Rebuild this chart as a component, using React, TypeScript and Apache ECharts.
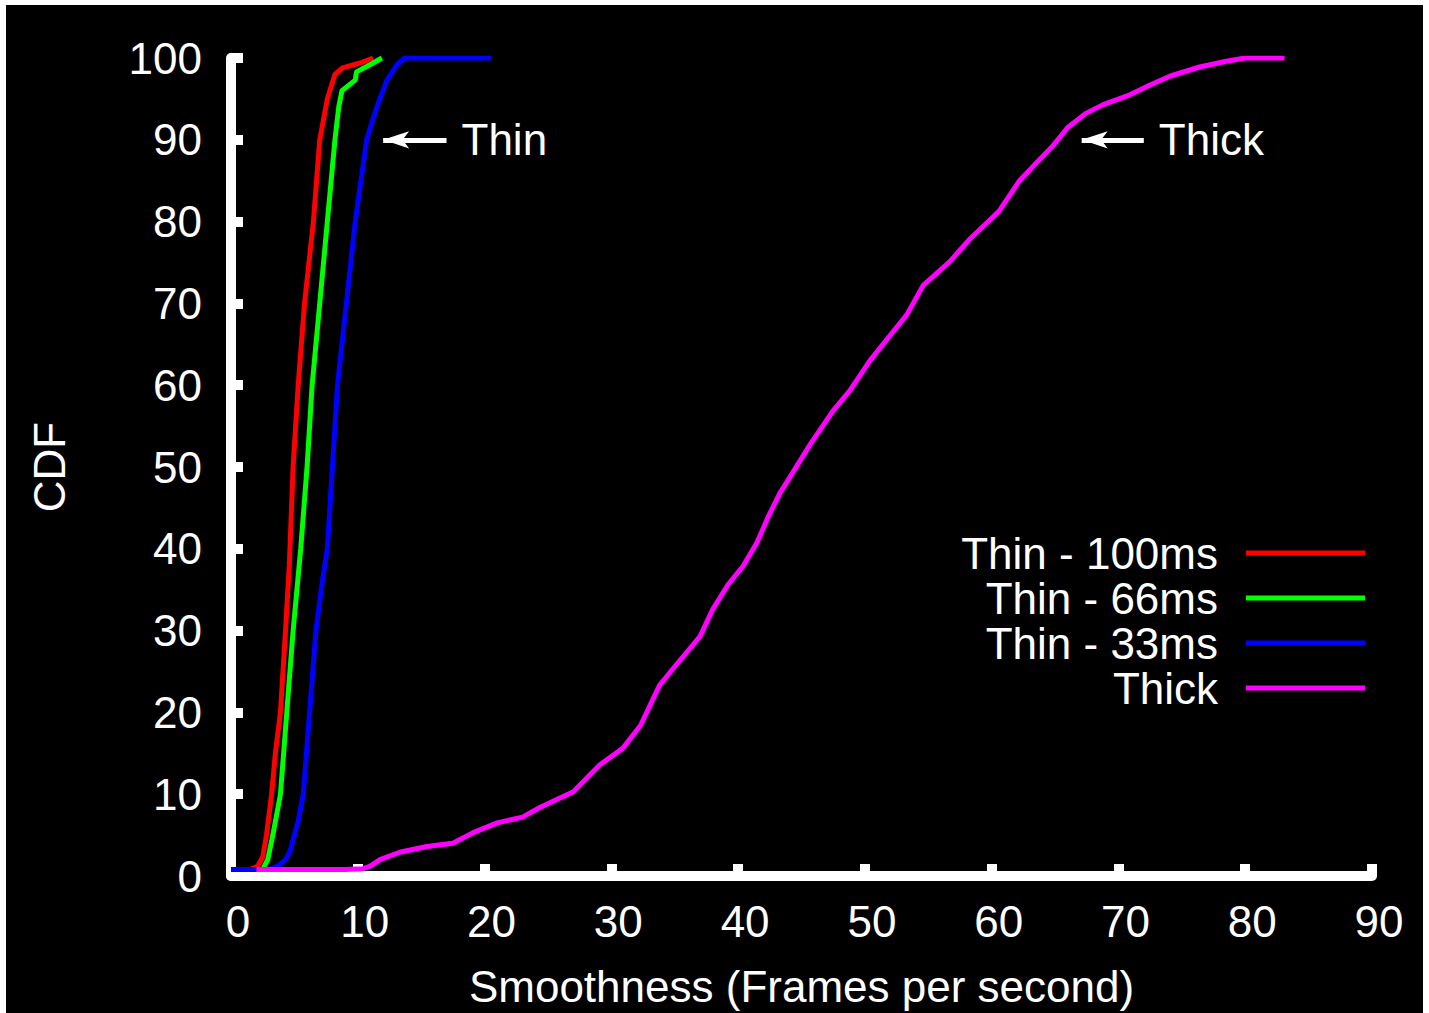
import React, { useEffect, useRef } from "react";
import * as echarts from "echarts";

const xTicks = [0, 10, 20, 30, 40, 50, 60, 70, 80, 90];
const yTicks = [0, 10, 20, 30, 40, 50, 60, 70, 80, 90, 100];

const seriesNames = ["Thin - 100ms", "Thin - 66ms", "Thin - 33ms", "Thick"];
const seriesColors = ["#ff0000", "#00ff00", "#0000ff", "#ff00ff"];

const thin100: number[][] = [
  [0, 0.8], [1.5, 0.8], [2.1, 1.2], [2.5, 2.3], [2.8, 5], [3.2, 10], [3.5, 15],
  [3.9, 20], [4.3, 30], [4.6, 38], [4.9, 50], [5.3, 60], [5.8, 70], [6.5, 80],
  [7.0, 90], [7.6, 95], [8.2, 98], [8.8, 98.8], [10.4, 99.5], [11.2, 100],
];

const thin66: number[][] = [
  [0, 0.8], [2.5, 0.8], [2.9, 2], [3.3, 5], [3.9, 10], [4.4, 20], [4.9, 30],
  [5.5, 40], [6.0, 50], [6.4, 60], [7.0, 70], [7.6, 80], [8.2, 90], [8.5, 94],
  [8.75, 96], [9.8, 97.3], [9.9, 98.3], [11.0, 99.2], [11.9, 100],
];

const thin33: number[][] = [
  [0, 0.8], [3.0, 0.8], [3.7, 1.2], [4.3, 2], [4.65, 3], [5.0, 5], [5.3, 6.7],
  [5.7, 10], [6.2, 20], [6.7, 30], [7.2, 36], [7.6, 40], [8.0, 50], [8.4, 60],
  [9.1, 70], [9.8, 80], [10.7, 90], [11.5, 94], [12.3, 97.3], [13.1, 99.2],
  [13.7, 100], [20.5, 100],
];

const thick: number[][] = [
  [2, 0.8], [9, 0.8], [10.4, 0.9], [11.0, 1.2], [11.75, 2.0], [13.3, 2.9],
  [15.45, 3.6], [17.5, 4.0], [19.1, 5.3], [21.0, 6.5], [23.0, 7.2], [24.4, 8.4],
  [27.0, 10.3], [29.1, 13.6], [30.9, 15.6], [32.3, 18.4], [33.8, 23.3],
  [34.9, 25.4], [37.0, 29.3], [38.0, 32.6], [39.2, 35.6], [40.4, 37.9],
  [41.5, 40.8], [42.4, 44.0], [43.3, 46.8], [44.1, 48.8], [45.7, 52.8],
  [47.5, 56.9], [48.8, 59.3], [50.4, 63.0], [52.0, 66.1], [53.3, 68.6],
  [54.6, 72.2], [56.7, 75.1], [58.3, 77.9], [60.6, 81.3], [62.2, 85.0],
  [63.6, 87.3], [64.8, 89.2], [66.0, 91.5], [67.4, 93.2], [68.8, 94.3],
  [70.9, 95.5], [72.5, 96.7], [74.1, 97.8], [76.4, 98.9], [78.5, 99.6],
  [80.0, 100], [83.1, 100],
];

const seriesData = [thin100, thin66, thin33, thick];

// annotation arrows: data-space start/end and label
const thinArrow = { x0: 12.0, x1: 17.0, y: 90, label: "Thin" };
const thickArrow = { x0: 67.1, x1: 72.0, y: 90, label: "Thick" };

const legendTops = [526, 571, 616, 661];

const FONT = "'Liberation Sans', Arial, Helvetica, sans-serif";
const FS = 44;

function arrowMarkLine(a: { x0: number; x1: number; y: number; label: string }) {
  return {
    silent: true,
    symbol: ["arrow", "none"],
    symbolSize: [13, 26],
    lineStyle: { color: "#ffffff", width: 5, type: "solid" },
    label: {
      show: true,
      position: "end",
      formatter: a.label,
      color: "#ffffff",
      fontSize: FS,
      fontFamily: FONT,
      distance: 15,
    },
    data: [[{ coord: [a.x0, a.y] }, { coord: [a.x1, a.y] }]],
  };
}

export default function App() {
  const ref = useRef<HTMLDivElement>(null);

  useEffect(() => {
    if (!ref.current) return;
    const chart = echarts.init(ref.current, undefined, { renderer: "svg" });

    const series = seriesNames.map((name, i) => {
      const s: any = {
        name,
        type: "line",
        data: seriesData[i],
        showSymbol: false,
        symbol: "none",
        lineStyle: { color: seriesColors[i], width: 5 },
        itemStyle: { color: seriesColors[i] },
        z: 3,
      };
      if (i === 2) s.markLine = arrowMarkLine(thinArrow);
      if (i === 3) s.markLine = arrowMarkLine(thickArrow);
      return s;
    });

    const legends = seriesNames.map((name, i) => ({
      data: [name],
      orient: "vertical",
      align: "right",
      right: 58,
      top: legendTops[i],
      padding: 0,
      icon: "rect",
      itemWidth: 119,
      itemHeight: 5,
      selectedMode: false,
      textStyle: {
        color: "#ffffff",
        fontSize: FS,
        fontFamily: FONT,
        lineHeight: 40,
        padding: [0, 23, 0, 0],
      },
    }));

    chart.setOption({
      animation: false,
      backgroundColor: "#000000",
      textStyle: { fontFamily: FONT },
      grid: { left: 225, top: 53, right: 51, bottom: 131, containLabel: false },
      legend: legends,
      xAxis: {
        type: "value",
        min: xTicks[0],
        max: xTicks[xTicks.length - 1],
        interval: 10,
        name: "Smoothness (Frames per second)",
        nameLocation: "middle",
        nameGap: 88,
        nameTextStyle: { color: "#ffffff", fontSize: FS, fontFamily: FONT, lineHeight: 44 },
        axisLine: { show: true, onZero: false, lineStyle: { color: "#ffffff", width: 10 } },
        axisTick: { show: true, inside: true, length: 12, lineStyle: { color: "#ffffff", width: 10 } },
        axisLabel: {
          color: "#ffffff",
          fontSize: FS,
          fontFamily: FONT,
          lineHeight: 44,
          margin: 23,
          padding: [0, 0, 0, 14],
          formatter: (v: number) => String(v),
        },
        splitLine: { show: false },
      },
      yAxis: {
        type: "value",
        min: yTicks[0],
        max: yTicks[yTicks.length - 1],
        interval: 10,
        name: "CDF",
        nameLocation: "middle",
        nameGap: 160,
        nameRotate: 90,
        nameTextStyle: { color: "#ffffff", fontSize: FS, fontFamily: FONT, lineHeight: 44 },
        axisLine: { show: true, onZero: false, lineStyle: { color: "#ffffff", width: 10 } },
        axisTick: { show: true, inside: true, length: 12, lineStyle: { color: "#ffffff", width: 10 } },
        axisLabel: {
          color: "#ffffff",
          fontSize: FS,
          fontFamily: FONT,
          lineHeight: 44,
          margin: 29,
          formatter: (v: number) => String(v),
        },
        splitLine: { show: false },
      },
      series,
    });

    return () => chart.dispose();
  }, []);

  return (
    <div style={{ position: "absolute", left: 0, top: 0, width: 1429, height: 1013, background: "#ffffff" }}>
      <div ref={ref} style={{ position: "absolute", left: 6, top: 5, width: 1417, height: 1008 }} />
    </div>
  );
}
